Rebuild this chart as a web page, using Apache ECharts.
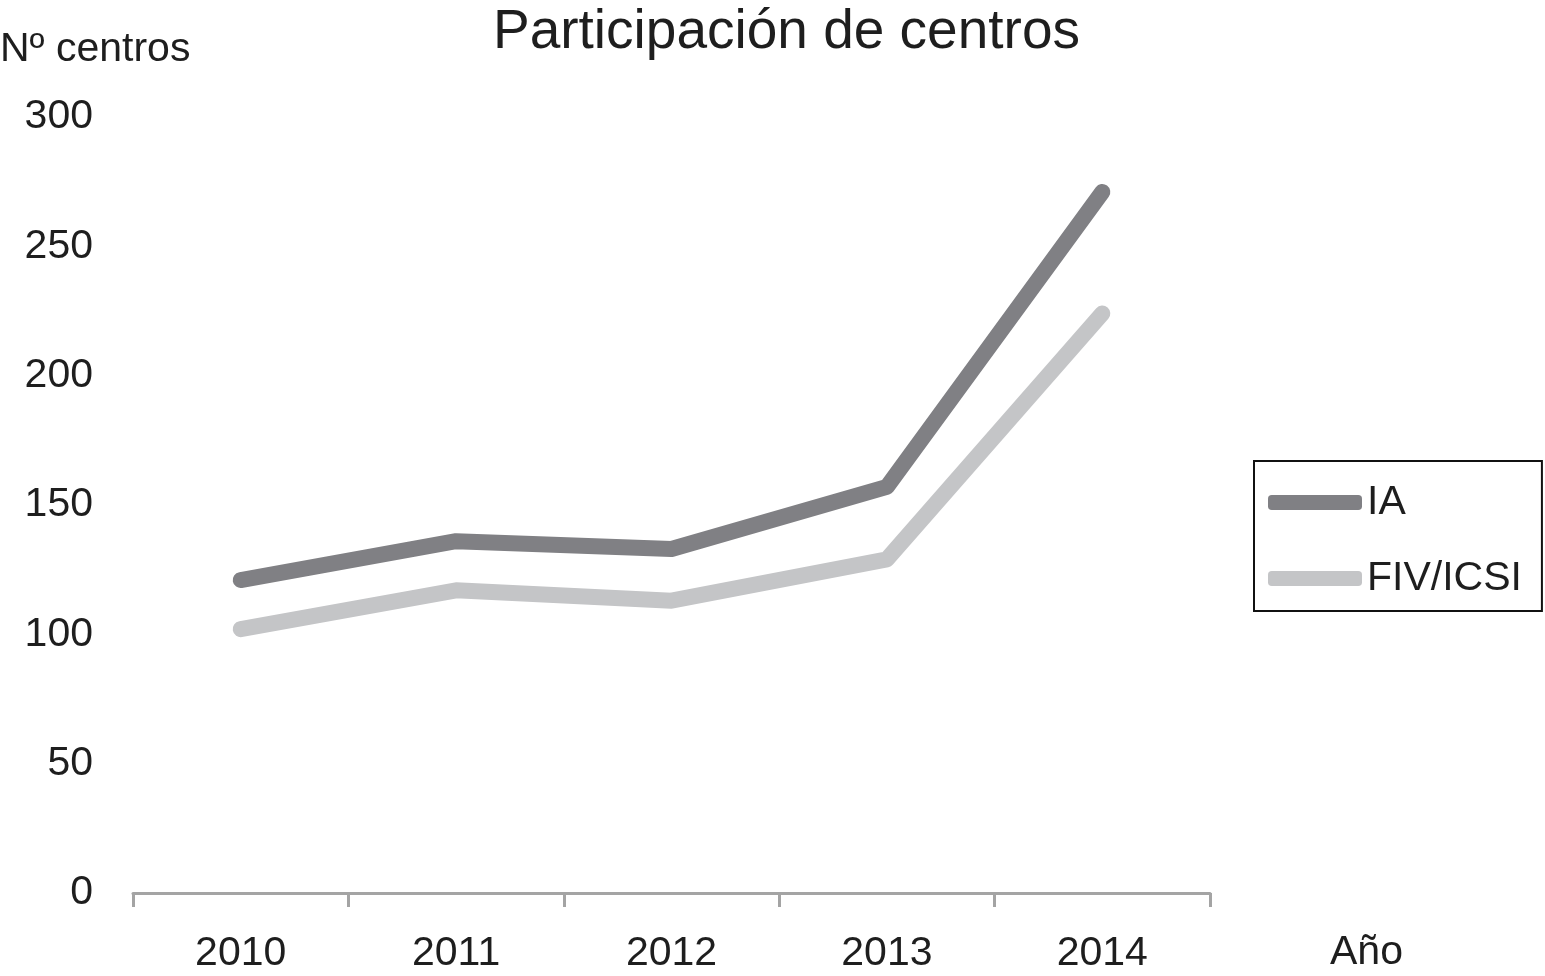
<!DOCTYPE html>
<html>
<head>
<meta charset="utf-8">
<script src="https://cdn.jsdelivr.net/npm/echarts@6/dist/echarts.min.js"></script>
<style>html,body{margin:0;padding:0;background:#fff}#c{width:1545px;height:976px}</style>
</head>
<body>
<div id="c"></div>
<script>
const years = ['2010', '2011', '2012', '2013', '2014'];
const iaValues = [121, 136, 133, 157, 271];
const fivValues = [102, 117, 113, 129, 224];
const yTicks = [0, 50, 100, 150, 200, 250, 300];

const FONT = 'Liberation Sans, Arial, Helvetica, sans-serif';
const TXT = '#1e1e1e';
const chart = echarts.init(document.getElementById('c'));
chart.setOption({
  backgroundColor: '#fff',
  animation: false,
  title: [
    { text: 'Participación de centros', left: 493, top: 5, padding: 0,
      textStyle: { fontFamily: FONT, fontSize: 55, fontWeight: 'normal', color: TXT } },
    { text: 'Nº centros', left: 0, top: 29, padding: 0,
      textStyle: { fontFamily: FONT, fontSize: 41, fontWeight: 'normal', color: TXT } },
    { text: 'Año', left: 1330, top: 932, padding: 0,
      textStyle: { fontFamily: FONT, fontSize: 41, fontWeight: 'normal', color: TXT } }
  ],
  legend: {
    orient: 'vertical',
    left: 1254, top: 461,
    padding: [21, 20, 12, 14],
    itemGap: 35,
    itemWidth: 94, itemHeight: 15,
    icon: 'roundRect',
    borderColor: '#111', borderWidth: 2,
    textStyle: { fontFamily: FONT, fontSize: 41, lineHeight: 40, color: TXT },
    data: ['IA', 'FIV/ICSI']
  },
  grid: { left: 133, right: 335, top: 117, bottom: 83 },
  xAxis: {
    type: 'category',
    data: years,
    boundaryGap: true,
    axisLine: { show: true, lineStyle: { color: '#a4a4a4', width: 3 } },
    axisTick: { show: true, alignWithLabel: false, length: 14, lineStyle: { color: '#a4a4a4', width: 3 } },
    axisLabel: { fontFamily: FONT, fontSize: 41, color: TXT, margin: 40 }
  },
  yAxis: {
    type: 'value',
    min: yTicks[0], max: yTicks[yTicks.length - 1], interval: 50,
    axisLine: { show: false },
    axisTick: { show: false },
    splitLine: { show: false },
    axisLabel: { fontFamily: FONT, fontSize: 41, color: TXT, margin: 40, padding: [6, 0, 0, 0] }
  },
  series: [
    { name: 'IA', type: 'line', data: iaValues, showSymbol: false, symbol: 'none',
      color: '#808084',
      lineStyle: { width: 16, color: '#808084', cap: 'round', join: 'round' } },
    { name: 'FIV/ICSI', type: 'line', data: fivValues, showSymbol: false, symbol: 'none',
      color: '#c4c5c7',
      lineStyle: { width: 16, color: '#c4c5c7', cap: 'round', join: 'round' } }
  ]
});
</script>
</body>
</html>
